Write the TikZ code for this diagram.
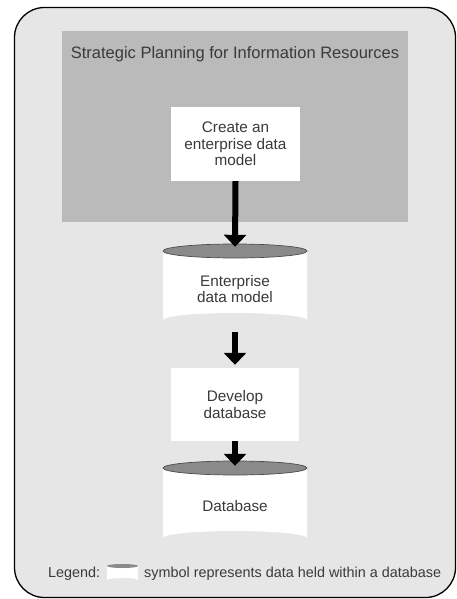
\documentclass[tikz,border=0pt]{standalone}
\usepackage{fontspec}
\setmainfont{Liberation Sans}
\usetikzlibrary{arrows.meta}
\definecolor{outerbg}{HTML}{E6E6E6}
\definecolor{planbg}{HTML}{BABABA}
\definecolor{topgray}{HTML}{8A8A8A}
\definecolor{txt}{HTML}{3A3A3A}
\begin{document}
\begin{tikzpicture}[x=1pt,y=-1pt,
  lbl/.style={font=\fontsize{15.3}{16.5}\selectfont, text=txt, align=center, inner sep=0pt},
  procbox/.style={lbl, fill=white, minimum width=129pt, minimum height=74pt},
  arr/.style={line width=6pt, -{Triangle[width=22pt,length=12pt]}},
  cyltop/.style={fill=topgray, draw=black!70, line width=0.7pt},
  legtext/.style={lbl, font=\fontsize{14.4}{16}\selectfont, anchor=west},
]
\useasboundingbox (0,0) rectangle (457,599);
% outer frame
\draw[line width=1.3pt, fill=outerbg, rounded corners=30pt] (14.5,7.5) rectangle (455.5,597.5);
% planning area
\fill[planbg] (62,31) rectangle (408,222);
\node[lbl, font=\fontsize{16.5}{18}\selectfont] (title) at (235,54.5) {Strategic Planning for Information Resources};
% create box
\node[procbox] (create) at (235.5,144) {Create an\\enterprise data\\model};
% cylinder 1
\fill[white] (163,251) -- (163,320) arc[start angle=180,end angle=360,x radius=72,y radius=7] -- (307,251) -- cycle;
\draw[cyltop] (235,251) ellipse [x radius=72, y radius=7];
\node[lbl, minimum width=144pt, minimum height=76pt] (edm) at (235,289) {Enterprise\\data model};
% develop box
\node[procbox, minimum width=128pt, minimum height=73pt] (dev) at (235,404.5) {Develop\\database};
% cylinder 2
\fill[white] (163,468) -- (163,538) arc[start angle=180,end angle=360,x radius=72,y radius=7] -- (307,468) -- cycle;
\draw[cyltop] (235,468) ellipse [x radius=72, y radius=7];
\node[lbl, minimum width=144pt, minimum height=77pt] (db) at (235,506.5) {Database};
% arrows
\draw[arr, shorten >=4pt] (create.south) -- (edm.north);
\draw[arr, shorten <=5pt, shorten >=3pt] (edm.south) -- (dev.north);
\draw[arr, shorten >=2pt] (dev.south) -- (db.north);
% legend
\node[legtext] (leg) at (48,573.5) {Legend:};
\fill[white] (107,566) -- (107,580) arc[start angle=180,end angle=360,x radius=15.5,y radius=2] -- (138,566) -- cycle;
\fill[topgray] (122.5,566) ellipse [x radius=15.5, y radius=2];
\node[legtext] (legtxt) at (144,573.5) {symbol represents data held within a database};
\end{tikzpicture}
\end{document}
